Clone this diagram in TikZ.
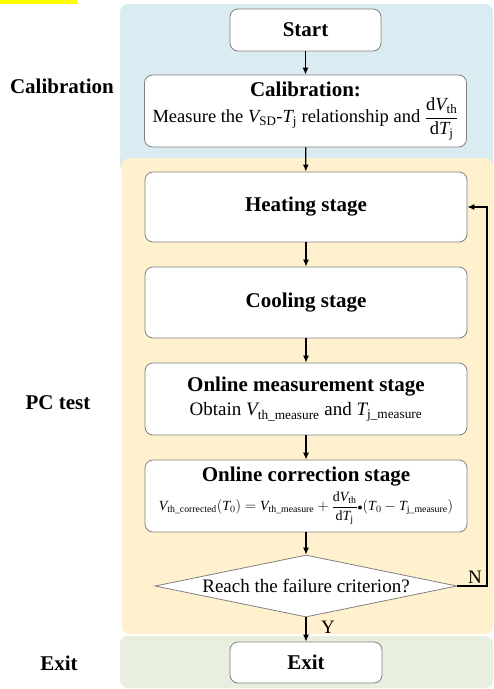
\documentclass[tikz,border=0pt]{standalone}
\usepackage{amsmath}
\usepackage{fontspec}
\setmainfont{Liberation Serif}
\usetikzlibrary{shapes.geometric,arrows.meta}
\definecolor{bluebg}{HTML}{DAEBF2}
\definecolor{orangebg}{HTML}{FFF1CE}
\definecolor{greenbg}{HTML}{E8EFDE}
\definecolor{hl}{HTML}{FFFF00}
\newcommand{\mV}{\textit{V}}
\newcommand{\mT}{\textit{T}}
\begin{document}
\begin{tikzpicture}[x=1pt,y=-1pt,
  box/.style={draw=black!50, fill=white, rounded corners=8pt, line width=0.8pt, align=center, inner sep=0pt},
  arr/.style={-{Latex[length=7pt,width=6pt]}, line width=1.2pt},
  ttl/.style={font=\bfseries\fontsize{21}{24}\selectfont},
  side/.style={font=\bfseries\fontsize{21}{24}\selectfont},
  lbl/.style={font=\fontsize{19}{22}\selectfont}]
\useasboundingbox (0,0) rectangle (494,689);
\fill[hl] (0,0) rectangle (77,4);
\fill[bluebg, rounded corners=8pt] (120,4) rectangle (493,172);
\fill[orangebg, rounded corners=8pt] (121.5,158) rectangle (493,634);
\fill[greenbg, rounded corners=8pt] (120,636) rectangle (493,688);

\node[side] (lcal) at (62,86) {Calibration};
\node[side] (lpc) at (58,403) {PC test};
\node[side] (lexit) at (59,663) {Exit};

\node[box, ttl, minimum width=151pt, minimum height=42pt] (start) at (305.5,30) {Start};
\node[box, minimum width=322pt, minimum height=72pt] (calib) at (305.5,111)
  {{\bfseries\fontsize{21}{24}\selectfont Calibration:}\\[0pt]
   {\fontsize{18.5}{22}\selectfont Measure the $\mV_{\text{SD}}$-$\mT_{\text{j}}$ relationship and $\dfrac{\text{d}\mV_{\text{th}}}{\text{d}\mT_{\text{j}}}$}};
\node[box, ttl, minimum width=322pt, minimum height=70pt] (heat) at (306,207) {Heating stage};
\node[box, ttl, minimum width=322pt, minimum height=71pt] (cool) at (306,302.5) {Cooling stage};
\node[box, minimum width=322pt, minimum height=72pt] (meas) at (306,399)
  {{\bfseries\fontsize{21}{24}\selectfont Online measurement stage}\\[6pt]
   {\fontsize{19}{22}\selectfont Obtain $\mV_{\text{th\_measure}}$ and $\mT_{\text{j\_measure}}$}};
\node[box, minimum width=322pt, minimum height=72pt] (corr) at (306,496)
  {{\bfseries\fontsize{21}{24}\selectfont Online correction stage}\\[4pt]
   {\fontsize{14}{17}\selectfont $\mV_{\text{th\_corrected}}(\mT_0)=\mV_{\text{th\_measure}}+\dfrac{\text{d}\mV_{\text{th}}}{\text{d}\mT_{\text{j}}}{\scriptstyle\bullet}(\mT_0-\mT_{\text{j\_measure}})$}};
\node[draw=black!50, fill=white, line width=0.8pt, diamond, aspect=4.87, minimum width=302pt, minimum height=62pt, inner sep=0pt, lbl] (dec) at (306,586) {Reach the failure criterion?};
\node[box, ttl, minimum width=152pt, minimum height=41pt] (exit) at (306,662.5) {Exit};

\coordinate (fb) at (487,586);
\draw[arr] (start) -- (calib);
\draw[arr] (calib) -- (heat);
\draw[arr] (heat) -- (cool);
\draw[arr] (cool) -- (meas);
\draw[arr] (meas) -- (corr);
\draw[arr] (corr) -- (dec);
\draw[arr] (dec) -- (exit);
\draw[arr] (dec.east) -- (fb) |- (heat.east);
\node[lbl] (nl) at (475,577) {N};
\node[lbl] (yl) at (328,627) {Y};
\end{tikzpicture}
\end{document}
